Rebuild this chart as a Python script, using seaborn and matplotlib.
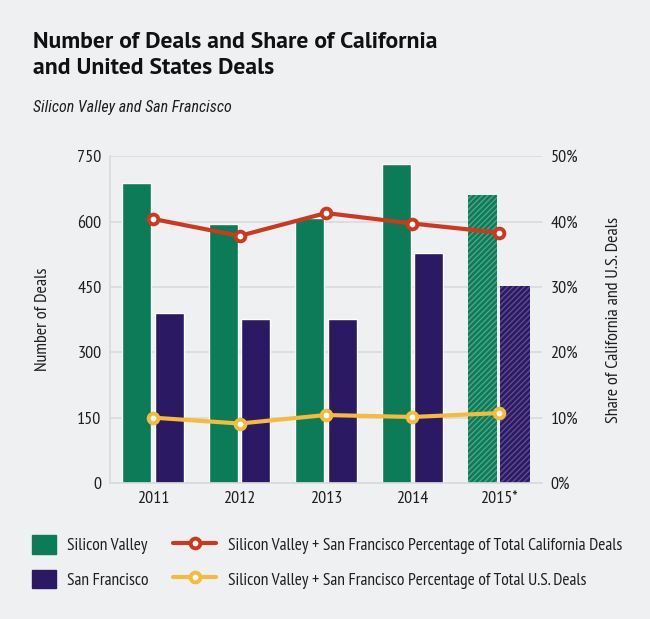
import matplotlib
matplotlib.use("Agg")
import matplotlib.pyplot as plt
import matplotlib.patches as mpatches
import matplotlib.lines as mlines
import numpy as np
import pandas as pd
import seaborn as sns

years = ["2011", "2012", "2013", "2014", "2015*"]
silicon_valley = [688, 595, 607, 733, 661]
san_francisco = [390, 377, 377, 527, 452]
pct_california = [40.4, 37.8, 41.3, 39.7, 38.3]
pct_us = [10.0, 9.1, 10.4, 10.1, 10.7]

bg = "#eff0f2"
green = "#0c7b58"
purple = "#2b1a63"
red = "#cb3a1f"
yellow = "#f4bb3c"
grid_c = "#d9dadd"
txt = "#1e1e1e"

sns.set_theme(style="white")
plt.rcParams["font.family"] = ["PT Sans Narrow", "DejaVu Sans"]
plt.rcParams["hatch.linewidth"] = 1.0

df = pd.DataFrame({
    "year": years * 2,
    "deals": silicon_valley + san_francisco,
    "region": ["Silicon Valley"] * len(years) + ["San Francisco"] * len(years),
})

fig = plt.figure(figsize=(6.5, 6.19), dpi=100, facecolor=bg)
ax = fig.add_axes([0.169, 0.2197, 0.665, 0.528], facecolor=bg)

sns.barplot(data=df, x="year", y="deals", hue="region", order=years,
            palette=[green, purple], width=0.75, gap=0.1, saturation=1,
            legend=False, ax=ax)

# hatch the 2015 estimate bars
for cont, col in zip(ax.containers, ["#4fa388", "#5c4d8f"]):
    bar = cont.patches[-1]
    bar.set_hatch("//////")
    bar.set_edgecolor(col)
    bar.set_linewidth(0)

ax.set_ylim(0, 750)
ax.set_xlim(-0.5, len(years) - 0.5)
ax.set_yticks(np.arange(0, 751, 150))
ax.yaxis.grid(True, color=grid_c, lw=1.2)
ax.set_axisbelow(True)
for s in ["top", "right"]:
    ax.spines[s].set_visible(False)
for s in ["left", "bottom"]:
    ax.spines[s].set_color(grid_c)
    ax.spines[s].set_linewidth(1.2)
ax.tick_params(length=0, labelsize=13, colors=txt, pad=6)
ax.set_xlabel("")
ax.set_ylabel("Number of Deals", fontsize=13, color=txt, labelpad=19)

ax2 = ax.twinx()
xs = np.arange(len(years))
for vals, col in [(pct_california, red), (pct_us, yellow)]:
    sns.lineplot(x=xs, y=vals, color=col, lw=3, marker="o", markersize=7,
                 markerfacecolor="white", markeredgecolor=col,
                 markeredgewidth=2.8, ax=ax2, zorder=5)
ax2.set_ylim(0, 50)
ax2.set_yticks(np.arange(0, 51, 10))
ax2.set_yticklabels([f"{v}%" for v in range(0, 51, 10)])
for s in ["top", "right", "left", "bottom"]:
    ax2.spines[s].set_visible(False)
ax2.tick_params(length=0, labelsize=13, colors=txt, pad=6)
ax2.set_ylabel("Share of California and U.S. Deals", fontsize=13,
               color=txt, labelpad=20)

title_font = ["PT Sans", "DejaVu Sans"]
fig.text(0.051, 0.9225, "Number of Deals and Share of California", family=title_font,
         fontsize=17, fontweight="bold", color="#111111", va="baseline")
fig.text(0.051, 0.8805, "and United States Deals", family=title_font,
         fontsize=17, fontweight="bold", color="#111111", va="baseline")
fig.text(0.051, 0.819, "Silicon Valley and San Francisco",
         family=["Roboto Condensed", "DejaVu Sans"], fontsize=11.5,
         style="italic", color=txt, va="baseline")

h1 = [mpatches.Patch(color=green, label="Silicon Valley"),
      mpatches.Patch(color=purple, label="San Francisco")]
h2 = [mlines.Line2D([], [], color=red, lw=3, marker="o", markersize=7,
                    markerfacecolor="white", markeredgewidth=2.8,
                    label="Silicon Valley + San Francisco Percentage of Total California Deals"),
      mlines.Line2D([], [], color=yellow, lw=3, marker="o", markersize=7,
                    markerfacecolor="white", markeredgewidth=2.8,
                    label="Silicon Valley + San Francisco Percentage of Total U.S. Deals")]
leg_kw = dict(frameon=False, fontsize=12.5, handleheight=1.25, labelspacing=0.9,
              borderaxespad=0, borderpad=0, labelcolor=txt)
fig.legend(handles=h1, loc="center left", bbox_to_anchor=(0.049, 0.092),
           handlelength=1.4, handletextpad=0.6, **leg_kw)
fig.legend(handles=h2, loc="center left", bbox_to_anchor=(0.266, 0.092),
           handlelength=2.5, handletextpad=0.7, **leg_kw)

fig.savefig("out.png", dpi=100, facecolor=bg)
